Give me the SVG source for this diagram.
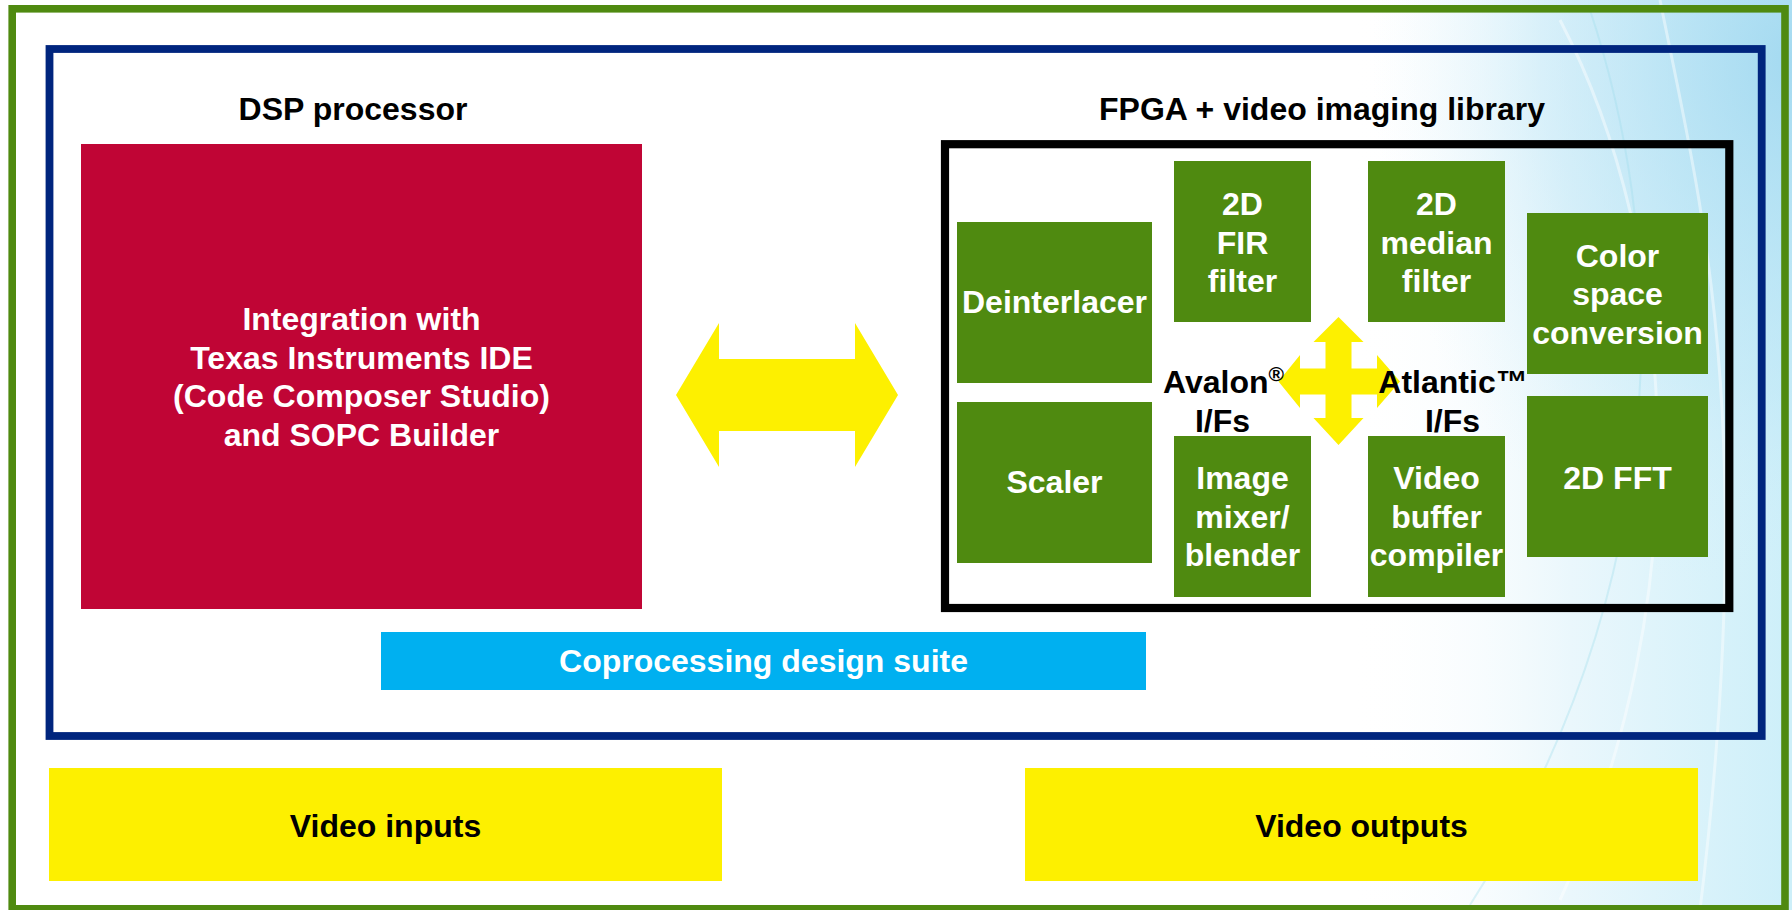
<svg xmlns="http://www.w3.org/2000/svg" width="1792" height="910" viewBox="0 0 1792 910">
<defs>
<linearGradient id="bgLin" x1="1350" y1="0" x2="1792" y2="0" gradientUnits="userSpaceOnUse">
<stop offset="0" stop-color="#ffffff" stop-opacity="0"/>
<stop offset="0.5" stop-color="#eaf7fc"/>
<stop offset="1" stop-color="#cdeff9"/>
</linearGradient>
<radialGradient id="bgRad" cx="1792" cy="60" r="420" gradientUnits="userSpaceOnUse" gradientTransform="translate(1792 60) scale(1 1.3) translate(-1792 -60)">
<stop offset="0" stop-color="#9dd6ef" stop-opacity="0.85"/>
<stop offset="0.6" stop-color="#b6e3f5" stop-opacity="0.4"/>
<stop offset="1" stop-color="#d8f1fb" stop-opacity="0"/>
</radialGradient>
<style>
.lbl{font-family:"Liberation Sans",Arial,sans-serif;font-weight:bold;font-size:32px;text-anchor:middle}
.w{fill:#ffffff}
.k{fill:#000000}
.gbox{fill:#4f8a10}
.yel{fill:#fdf000}
</style>
</defs>
<rect x="0" y="0" width="1792" height="910" fill="#ffffff"/>
<rect x="1300" y="0" width="492" height="910" fill="url(#bgLin)"/>
<rect x="1200" y="0" width="592" height="910" fill="url(#bgRad)"/>
<g fill="none" stroke="#ffffff" stroke-opacity="0.45" stroke-width="3">
<path d="M1660,0 C1700,200 1760,420 1700,910"/>
<path d="M1560,20 C1680,250 1700,600 1560,900"/>
</g>
<g fill="none" stroke="#9fdcec" stroke-opacity="0.35" stroke-width="2">
<path d="M1590,10 C1660,220 1690,560 1470,905"/>
</g>

<g id="frame-outer"><rect x="12.2" y="8.8" width="1772.8" height="900" fill="none" stroke="#4f8a10" stroke-width="7.6"/></g>
<g id="frame-suite"><rect x="49.5" y="49" width="1712.2" height="687" fill="none" stroke="#00257e" stroke-width="7.8"/></g>

<g id="title-dsp"><text class="lbl k" x="353" y="120">DSP processor</text></g>
<g id="title-fpga"><text class="lbl k" x="1322" y="120">FPGA + video imaging library</text></g>

<g id="dsp">
<rect x="81" y="144" width="561" height="465" fill="#c00535"/>
<text class="lbl w" x="361.5" y="330">Integration with</text>
<text class="lbl w" x="361.5" y="368.5">Texas Instruments IDE</text>
<text class="lbl w" x="361.5" y="407">(Code Composer Studio)</text>
<text class="lbl w" x="361.5" y="445.5">and SOPC Builder</text>
</g>

<g id="fpga"><rect x="945" y="144.2" width="784.3" height="463.8" fill="none" stroke="#000000" stroke-width="8.2"/></g>

<g id="deinterlacer"><rect class="gbox" x="957" y="222" width="195" height="161"/><text class="lbl w" x="1054.5" y="313">Deinterlacer</text></g>
<g id="scaler"><rect class="gbox" x="957" y="402" width="195" height="161"/><text class="lbl w" x="1054.5" y="493">Scaler</text></g>
<g id="fir"><rect class="gbox" x="1174" y="161" width="137" height="161"/>
<text class="lbl w" x="1242.5" y="215">2D</text><text class="lbl w" x="1242.5" y="253.5">FIR</text><text class="lbl w" x="1242.5" y="292">filter</text></g>
<g id="median"><rect class="gbox" x="1368" y="161" width="137" height="161"/>
<text class="lbl w" x="1436.5" y="215">2D</text><text class="lbl w" x="1436.5" y="253.5">median</text><text class="lbl w" x="1436.5" y="292">filter</text></g>
<g id="colorspace"><rect class="gbox" x="1527" y="213" width="181" height="161"/>
<text class="lbl w" x="1617.5" y="266.5">Color</text><text class="lbl w" x="1617.5" y="305">space</text><text class="lbl w" x="1617.5" y="343.5">conversion</text></g>
<g id="mixer"><rect class="gbox" x="1174" y="436" width="137" height="161"/>
<text class="lbl w" x="1242.5" y="489">Image</text><text class="lbl w" x="1242.5" y="527.5">mixer/</text><text class="lbl w" x="1242.5" y="566">blender</text></g>
<g id="vbuffer"><rect class="gbox" x="1368" y="436" width="137" height="161"/>
<text class="lbl w" x="1436.5" y="489">Video</text><text class="lbl w" x="1436.5" y="527.5">buffer</text><text class="lbl w" x="1436.5" y="566">compiler</text></g>
<g id="fft"><rect class="gbox" x="1527" y="396" width="181" height="161"/><text class="lbl w" x="1617.5" y="488.5">2D FFT</text></g>

<g id="connectors">
<polygon class="yel" points="676,395 719,323 719,359 855,359 855,323 898,395 855,467 855,431 719,431 719,467"/>
<polygon class="yel" points="1338.5,317 1363.5,342 1351.5,342 1351.5,368.5 1377,368.5 1377,355 1400,381.5 1377,408 1377,394.5 1351.5,394.5 1351.5,418 1363.5,418 1338.5,445 1313.5,418 1325.5,418 1325.5,394.5 1300,394.5 1300,408 1278.5,381.5 1300,355 1300,368.5 1325.5,368.5 1325.5,342 1313.5,342"/>
</g>

<g id="avalon">
<text class="lbl k" x="1223.5" y="393">Avalon<tspan font-size="21" dy="-12">®</tspan></text>
<text class="lbl k" x="1222.5" y="432">I/Fs</text>
</g>
<g id="atlantic">
<text class="lbl k" x="1453" y="393">Atlantic™</text>
<text class="lbl k" x="1452.5" y="432">I/Fs</text>
</g>

<g id="suite"><rect x="381" y="632" width="765" height="58" fill="#00b0f0"/><text class="lbl w" x="763.5" y="672">Coprocessing design suite</text></g>

<g id="video-inputs"><rect class="yel" x="49" y="768" width="673" height="113"/><text class="lbl k" x="385.5" y="837">Video inputs</text></g>
<g id="video-outputs"><rect class="yel" x="1025" y="768" width="673" height="113"/><text class="lbl k" x="1361.5" y="837">Video outputs</text></g>
</svg>
